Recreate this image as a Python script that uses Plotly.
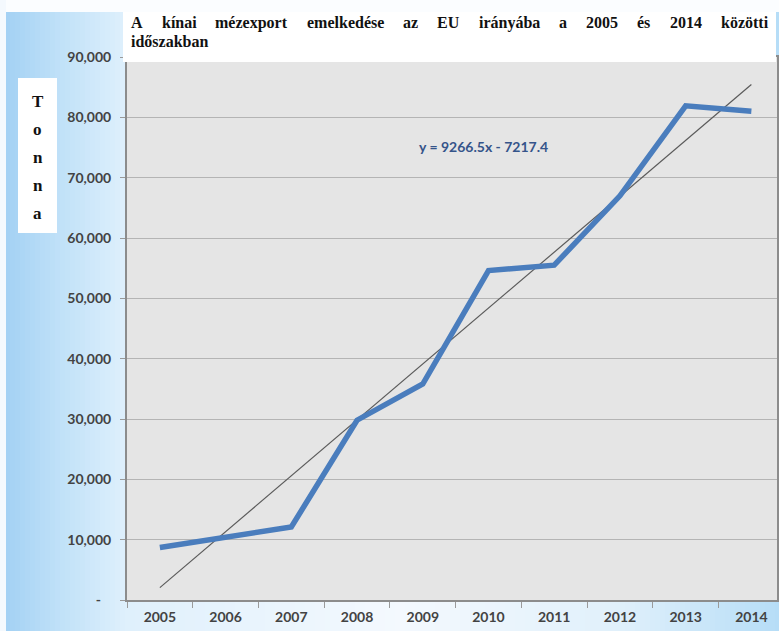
import plotly.graph_objects as go

# ---------------- data ----------------
years = ["2005", "2006", "2007", "2008", "2009", "2010", "2011", "2012", "2013", "2014"]
export_tonnes = [8700, 10400, 12100, 29800, 35800, 54600, 55500, 67000, 81900, 81000]
trend_slope = 9266.5
trend_intercept = -7217.4
trend_label = "y = 9266.5x - 7217.4"
ytick_vals = [0, 10000, 20000, 30000, 40000, 50000, 60000, 70000, 80000, 90000]
ytick_text = ["-\u00a0\u00a0\u00a0", "10,000", "20,000", "30,000", "40,000", "50,000",
              "60,000", "70,000", "80,000", "90,000"]
title_words = ["A", "kínai", "mézexport", "emelkedése", "az", "EU", "irányába", "a",
               "2005", "és", "2014", "közötti"]
title_line2 = "időszakban"
axis_letters = ["T", "o", "n", "n", "a"]

# trendline evaluated at Excel's x = 1..N
trend_vals = [trend_slope * (i + 1) + trend_intercept for i in range(len(years))]

# ---------------- geometry ----------------
W, H = 779, 631
L, R, T, B = 127, 2, 57, 31
PW, PH = W - L - R, H - T - B


def px(xp):
    return (xp - L) / PW


def py(yp):
    return (H - B - yp) / PH


def hex2rgb(h):
    h = h.lstrip("#")
    return tuple(int(h[i:i + 2], 16) for i in (0, 2, 4))


stops = [(0, "#a0cff3"), (60, "#c0e1f8"), (127, "#dff0fc"), (400, "#f4f9fe"),
         (620, "#e0f0fb"), (779, "#b6ddf7")]


def color_at(x):
    for (x0, c0), (x1, c1) in zip(stops[:-1], stops[1:]):
        if x0 <= x <= x1:
            t = (x - x0) / (x1 - x0)
            a, b = hex2rgb(c0), hex2rgb(c1)
            return "rgb(%d,%d,%d)" % tuple(round(a[k] + (b[k] - a[k]) * t) for k in range(3))
    return stops[-1][1]


shapes = []
step = 5
x = 0
while x < W:
    shapes.append(dict(type="rect", xref="paper", yref="paper", layer="below",
                       x0=px(x), x1=px(x + step + 1), y0=py(H), y1=py(0),
                       line=dict(width=0), fillcolor=color_at(x + step / 2)))
    x += step
# white borders top / left
shapes.append(dict(type="rect", xref="paper", yref="paper", layer="below",
                   x0=px(0), x1=px(W), y0=py(12), y1=py(0), line=dict(width=0), fillcolor="#fbfdff"))
shapes.append(dict(type="rect", xref="paper", yref="paper", layer="below",
                   x0=px(0), x1=px(6), y0=py(H), y1=py(0), line=dict(width=0), fillcolor="#f4f9fe"))
# plot area
shapes.append(dict(type="rect", xref="paper", yref="paper", layer="below",
                   x0=0, x1=1, y0=0, y1=1, line=dict(width=0), fillcolor="#e5e5e5"))
# title box
shapes.append(dict(type="rect", xref="paper", yref="paper", layer="above",
                   x0=px(123), x1=px(776), y0=py(62), y1=py(12), line=dict(width=0), fillcolor="#ffffff"))
# axis-title box
shapes.append(dict(type="rect", xref="paper", yref="paper", layer="above",
                   x0=px(18), x1=px(57), y0=py(233), y1=py(78), line=dict(width=0), fillcolor="#ffffff"))

# ---------------- traces ----------------
fig = go.Figure()
fig.add_trace(go.Scatter(x=years, y=trend_vals, mode="lines",
                         line=dict(color="#5a5a5a", width=1.2), hoverinfo="skip", showlegend=False))
fig.add_trace(go.Scatter(x=years, y=export_tonnes, mode="lines",
                         line=dict(color="#4a7dbd", width=5.5), showlegend=False))

# ---------------- annotations ----------------
annotations = []
# justified title line 1 (Times-Bold metrics == Liberation Serif Bold)
adv = {"A": 722, "k": 556, "í": 278, "n": 556, "a": 500, "i": 278, "m": 833, "é": 444,
       "z": 444, "e": 444, "x": 500, "p": 556, "o": 500, "r": 444, "t": 333, "l": 278,
       "d": 556, "s": 389, "E": 667, "U": 722, "á": 500, "y": 500, "b": 556, "0": 500,
       "1": 500, "2": 500, "4": 500, "5": 500, "ö": 500}
fs_title = 16
widths = [sum(adv.get(ch, 500) for ch in w) * fs_title / 1000 for w in title_words]
x_start, x_end = 130, 767
gap = (x_end - x_start - sum(widths)) / (len(title_words) - 1)
cx = x_start
title_font = dict(family="Liberation Serif", size=fs_title, color="#111111", weight="bold")
for w, wd in zip(title_words, widths):
    annotations.append(dict(text=w, xref="paper", yref="paper", x=px(cx - 1), y=py(22.5),
                            xanchor="left", yanchor="middle", showarrow=False, font=title_font))
    cx += wd + gap
annotations.append(dict(text=title_line2, xref="paper", yref="paper", x=px(129), y=py(42),
                        xanchor="left", yanchor="middle", showarrow=False, font=title_font))

letter_y = [101, 129, 157, 186, 213]
for ch, yy in zip(axis_letters, letter_y):
    annotations.append(dict(text=ch, xref="paper", yref="paper", x=px(37.5), y=py(yy),
                            xanchor="center", yanchor="middle", showarrow=False,
                            font=dict(family="Liberation Serif", size=17, color="#111111",
                                      weight="bold")))

annotations.append(dict(text=trend_label, xref="x", yref="y", x=4.92, y=75100,
                        xanchor="center", yanchor="middle", showarrow=False,
                        font=dict(family="Lato", size=14, color="#35548a", weight="bold")))

tick_font = dict(family="Lato", size=14, color="#434343", weight="bold")

fig.update_layout(
    width=W, height=H,
    margin=dict(l=L, r=R, t=T, b=B, pad=0, autoexpand=False),
    paper_bgcolor="#eaf5fd",
    plot_bgcolor="rgba(0,0,0,0)",
    shapes=shapes,
    annotations=annotations,
    xaxis=dict(type="category", range=[-0.5, 9.39], tickson="boundaries",
               ticks="outside", ticklen=6, tickcolor="#9a9a9a", tickwidth=1,
               ticklabelstandoff=3, automargin=False,
               showline=True, linecolor="#8c8c8c", linewidth=2, mirror=True,
               showgrid=False, tickfont=tick_font, fixedrange=True),
    yaxis=dict(range=[0, 90000], tickvals=ytick_vals, ticktext=ytick_text,
               ticks="outside", ticklen=5, tickcolor="#9a9a9a", tickwidth=1,
               ticklabelstandoff=6, automargin=False,
               showline=True, linecolor="#8c8c8c", linewidth=2, mirror=True,
               showgrid=True, gridcolor="#b4b4b4", gridwidth=1, zeroline=False,
               tickfont=tick_font, fixedrange=True),
)

fig.write_html("out.html", config={"displayModeBar": False},
               post_script="document.body.style.margin='0';document.body.style.overflow='hidden';")
